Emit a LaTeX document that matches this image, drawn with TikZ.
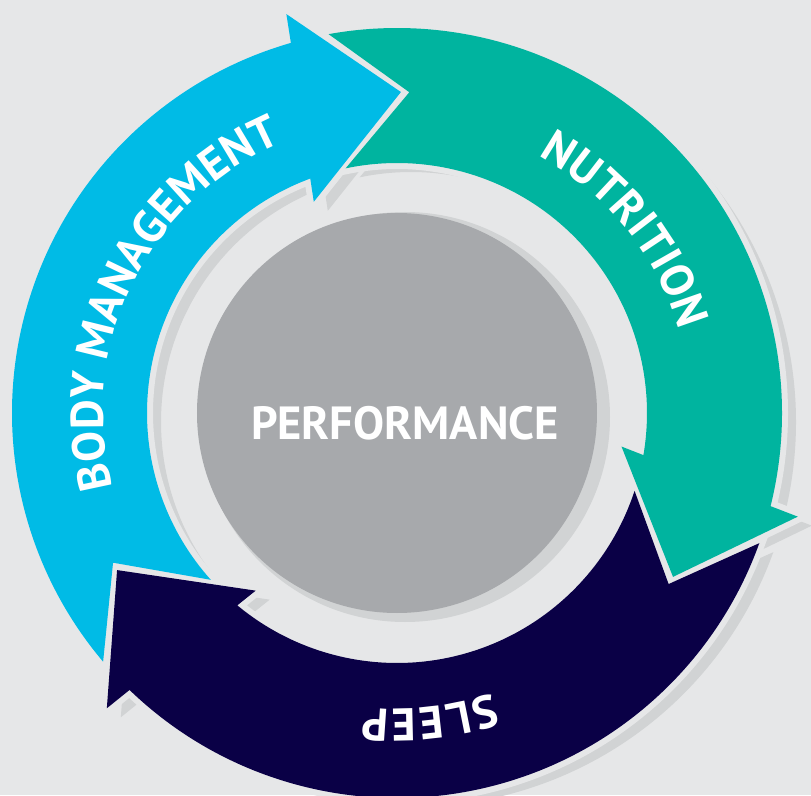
\documentclass[tikz,border=0pt]{standalone}
\usepackage{fontspec}
\setsansfont{PT Sans}
\usetikzlibrary{decorations.text}

\definecolor{bgc}{HTML}{E6E7E8}
\definecolor{shade}{HTML}{D1D3D4}
\definecolor{bodyc}{HTML}{00BBE6}
\definecolor{nutric}{HTML}{00B49F}
\definecolor{sleepc}{HTML}{0A0046}
\definecolor{perfc}{HTML}{A7A9AC}

% one curved arrow of the cycle: head near the top, V-notched tail at lower left
\def\cyclearrow{(89.3:321pt) -- (105.5:414pt) -- (106.0:385pt)
  arc[start angle=106, end angle=220.24, radius=385pt]
  -- (207.8:321pt) -- (221.86:250pt)
  arc[start angle=221.86, end angle=110.3, radius=250pt]
  -- (111.5:227pt) -- cycle}

\newcommand{\ringfont}{\sffamily\bfseries\fontsize{46}{50}\selectfont}

\tikzset{
  dropshade/.style={fill=shade},
  halo/.style={draw=bgc, line width=12pt, line join=miter},
  ringlabel/.style={decorate, decoration={text along path, text align=fit to path, text color=white}}
}

\begin{document}
\begin{tikzpicture}[x=1pt,y=1pt]
  \useasboundingbox (-397pt,-382pt) rectangle (414pt,413pt);
  \fill[bgc] (-397pt,-382pt) rectangle (414pt,413pt);

  % soft drop shadows
  \fill[dropshade] (8pt,-4pt) circle[radius=205pt];
  \foreach \rot in {0,-120,-240}{
    \begin{scope}[shift={(14pt,-9pt)}, rotate=\rot]
      \fill[dropshade] \cyclearrow;
    \end{scope}
  }

  % light outlines that separate the arrows
  \foreach \rot in {0,-120,-240}{
    \begin{scope}[rotate=\rot]
      \draw[halo] \cyclearrow;
    \end{scope}
  }

  % the three arrows
  \begin{scope}[rotate=0]
    \fill[bodyc] \cyclearrow;
  \end{scope}
  \begin{scope}[rotate=-120]
    \fill[nutric] \cyclearrow;
  \end{scope}
  \begin{scope}[rotate=-240]
    \fill[sleepc] \cyclearrow;
  \end{scope}

  % centre disc
  \fill[perfc] (0,0) circle[radius=200pt];
  \node[font=\sffamily\bfseries\fontsize{46.5}{50}\selectfont, text=white, inner sep=0pt] (perf) at (8pt,-10pt) {PERFORMANCE};

  % curved labels
  \path[ringlabel, decoration={text={|\ringfont|BODY MANAGEMENT}}]
    (194.6:294pt) arc[start angle=194.6, end angle=113, radius=294pt];
  \path[ringlabel, decoration={text={|\ringfont|NUTRITION}}]
    (61.2:294pt) arc[start angle=61.2, end angle=16.3, radius=294pt];
  \path[ringlabel, decoration={text={|\ringfont|SLEEP}}]
    (-71.2:296pt) arc[start angle=-71.2, end angle=-96.5, radius=296pt];
\end{tikzpicture}
\end{document}
